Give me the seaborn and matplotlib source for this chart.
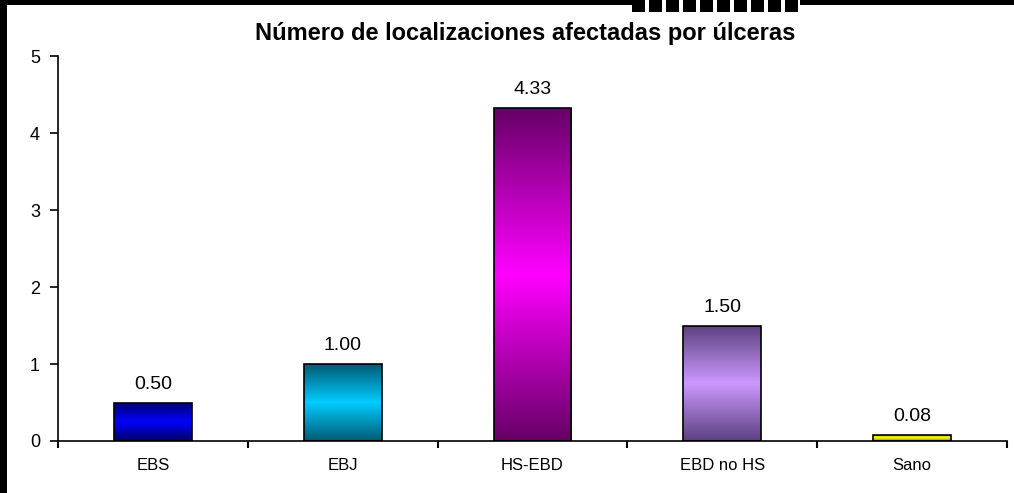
import numpy as np
import pandas as pd
import matplotlib
matplotlib.use("Agg")
import matplotlib.pyplot as plt
import seaborn as sns
from matplotlib.colors import LinearSegmentedColormap
from matplotlib.patches import Rectangle

# Data
categories = ["EBS", "EBJ", "HS-EBD", "EBD no HS", "Sano"]
values = [0.50, 1.00, 4.33, 1.50, 0.08]
bright_colors = ["#0000FF", "#00CCFF", "#FF00FF", "#CC99FF", "#FFFF00"]
dark_colors = ["#000066", "#005A73", "#660066", "#5C4080", "#8A8A00"]
title = "Número de localizaciones afectadas por úlceras"

df = pd.DataFrame({"grupo": categories, "valor": values})

sns.set_style("white")
plt.rcParams["font.family"] = ["Liberation Sans", "DejaVu Sans"]
plt.rcParams["text.color"] = "black"
plt.rcParams["xtick.color"] = "black"
plt.rcParams["ytick.color"] = "black"
plt.rcParams["xtick.labelcolor"] = "black"
plt.rcParams["ytick.labelcolor"] = "black"

fig = plt.figure(figsize=(10.14, 4.93), dpi=100)
ax = fig.add_axes([0.0572, 0.1055, 0.9358, 0.7805])

sns.barplot(data=df, x="grupo", y="valor", hue="grupo", palette=bright_colors,
            legend=False, width=0.41, edgecolor="black", linewidth=1.2, ax=ax)

# vertical gradient (dark - bright - dark) clipped to each bar
grad = np.linspace(0, 1, 256).reshape(-1, 1)
for patch, dark, bright in zip(ax.patches, dark_colors, bright_colors):
    cmap = LinearSegmentedColormap.from_list("g", [dark, bright, dark])
    x0, y0 = patch.get_x(), patch.get_y()
    w, h = patch.get_width(), patch.get_height()
    im = ax.imshow(grad, cmap=cmap, aspect="auto", extent=[x0, x0 + w, y0, y0 + h],
                   origin="lower", zorder=patch.get_zorder() - 0.1)
    im.set_clip_path(patch)
    patch.set_facecolor("none")
ax.set_xlim(-0.5, len(categories) - 0.5)
ax.set_ylim(0, 5)

for c, v in zip(ax.containers, values):
    ax.bar_label(c, labels=[f"{v:.2f}"], padding=7, fontsize=14, color="black")

# axes styling
for s in ["top", "right"]:
    ax.spines[s].set_visible(False)
for s in ["left", "bottom"]:
    ax.spines[s].set_color("black")
    ax.spines[s].set_linewidth(1.2)

ax.set_yticks(range(0, 6))
ax.tick_params(axis="y", direction="out", length=6, width=1.2, pad=7, labelsize=13, left=True,
               colors="black")
ax.set_xticks(np.arange(-0.5, len(categories), 1.0))
ax.set_xticklabels([])
ax.tick_params(axis="x", which="major", direction="out", length=5, width=1.5, bottom=True,
               colors="black")
ax.set_xticks(range(len(categories)), minor=True)
ax.set_xticklabels(categories, minor=True)
ax.tick_params(axis="x", which="minor", length=0, pad=12, labelsize=12, colors="black")
ax.set_xlabel("")
ax.set_ylabel("")

fig.text(0.518, 0.933, title, ha="center", va="center", fontsize=17, fontweight="bold",
         color="black")

# black frame pieces around the picture
fig.patches.append(Rectangle((0, 0), 7 / 1014, 1, transform=fig.transFigure,
                             facecolor="black", edgecolor="none"))
fig.patches.append(Rectangle((0, 1 - 5 / 493), 632 / 1014, 5 / 493, transform=fig.transFigure,
                             facecolor="black", edgecolor="none"))
fig.patches.append(Rectangle((800 / 1014, 1 - 5 / 493), 214 / 1014, 5 / 493,
                             transform=fig.transFigure, facecolor="black", edgecolor="none"))
for xs in np.arange(632, 800, 17):
    fig.patches.append(Rectangle((xs / 1014, 1 - 12 / 493), 13 / 1014, 12 / 493,
                                 transform=fig.transFigure, facecolor="black", edgecolor="none"))

fig.savefig("out.png", dpi=100)
